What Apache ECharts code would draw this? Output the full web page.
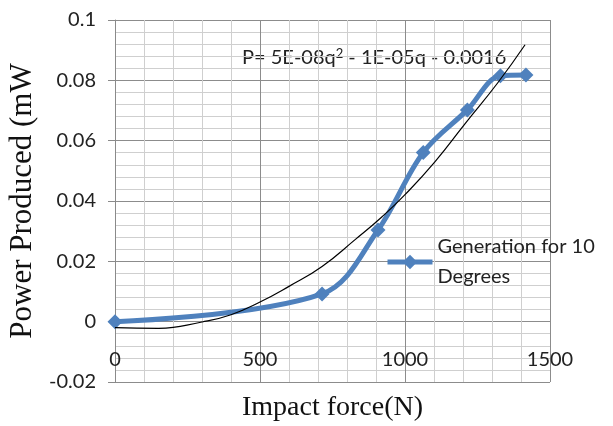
<!DOCTYPE html>
<html>
<head>
<meta charset="utf-8">
<script src="https://cdn.jsdelivr.net/npm/echarts@6/dist/echarts.min.js"></script>
<style>
html,body{margin:0;padding:0;background:#fff;}
#chart{width:613px;height:426px;}
</style>
</head>
<body>
<div id="chart"></div>
<script>
// Measured series (Impact force N, Power mW)
var forceValues = [0, 714, 907, 1063, 1215, 1329, 1417];
var powerValues = [0, 0.0092, 0.0304, 0.0561, 0.0702, 0.0815, 0.0818];
// Trendline
var trendForce = [0, 150, 300, 400, 500, 600, 714, 828, 920, 1000, 1103, 1206, 1320, 1414];
var trendPower = [-0.002, -0.0022, -0.0001, 0.0023, 0.0065, 0.0117, 0.0183, 0.0272, 0.0347, 0.0421, 0.0530, 0.0655, 0.0792, 0.0918];
var seriesName = 'Generation for 10\nDegrees';
var equationText = 'P= 5E-08q{sup|2} - 1E-05q - 0.0016';
var xTitle = 'Impact force(N)';
var yTitle = 'Power Produced (mW';

function pairs(xs, ys) { return xs.map(function (x, i) { return [x, ys[i]]; }); }

var chart = echarts.init(document.getElementById('chart'), null, { renderer: 'canvas' });
var sansFont = 'Lato';
var serifFont = 'Liberation Serif';
chart.setOption({
  animation: false,
  backgroundColor: '#ffffff',
  grid: { left: 115, right: 63, top: 20, bottom: 44, containLabel: false, outerBoundsMode: 'none' },
  xAxis: {
    type: 'value', min: 0, max: 1500, interval: 500,
    axisLine: { show: false },
    axisTick: { show: false },
    minorTick: { show: false, splitNumber: 5 },
    axisLabel: { inside: true, margin: 12, fontFamily: sansFont, fontSize: 20, color: '#222',
      formatter: function (v) { return String(v); } },
    splitLine: { show: true, lineStyle: { color: '#8c8c8c', width: 1 } },
    minorSplitLine: { show: true, lineStyle: { color: '#cfcfcf', width: 1 } },
    name: xTitle, nameLocation: 'middle', nameGap: 12,
    nameTextStyle: { fontFamily: serifFont, fontSize: 28, color: '#111' }
  },
  yAxis: {
    type: 'value', min: -0.02, max: 0.1, interval: 0.02,
    axisLine: { show: true, onZero: false, lineStyle: { color: '#8a8a8a', width: 1 } },
    axisTick: { show: true, inside: false, length: 7, lineStyle: { color: '#8a8a8a' } },
    minorTick: { show: false, splitNumber: 5 },
    axisLabel: { margin: 19, fontFamily: sansFont, fontSize: 20, color: '#222',
      formatter: function (v) { return String(Math.round(v * 1000) / 1000); } },
    splitLine: { show: true, lineStyle: { color: '#8c8c8c', width: 1 } },
    minorSplitLine: { show: true, lineStyle: { color: '#cfcfcf', width: 1 } },
    name: yTitle, nameLocation: 'middle', nameGap: 72,
    nameTextStyle: { fontFamily: serifFont, fontSize: 31, color: '#111' }
  },
  legend: {
    data: [seriesName],
    left: 385, top: 217, padding: 0,
    itemWidth: 45, itemHeight: 18,
    lineStyle: { width: 5 },
    textStyle: { fontFamily: sansFont, fontSize: 20, color: '#222', lineHeight: 30, padding: [30, 0, 0, 0] }
  },
  graphic: [{
    type: 'text', left: 242, top: 47,
    style: {
      text: equationText, font: '20px Lato', fill: '#222',
      rich: { sup: { fontSize: 13, fontFamily: 'Lato', fill: '#222', verticalAlign: 'top', padding: [0, 0, 8, 0] } }
    }
  }],
  series: [{
    name: seriesName, type: 'line', data: pairs(forceValues, powerValues),
    smooth: 0.35, symbol: 'diamond', symbolSize: 15,
    lineStyle: { color: '#4F81BD', width: 5 },
    itemStyle: { color: '#4F81BD' }, z: 3
  }, {
    name: 'trend', type: 'line', data: pairs(trendForce, trendPower),
    smooth: true, symbol: 'none',
    lineStyle: { color: '#000', width: 1.2 }, z: 4
  }]
});
</script>
</body>
</html>
